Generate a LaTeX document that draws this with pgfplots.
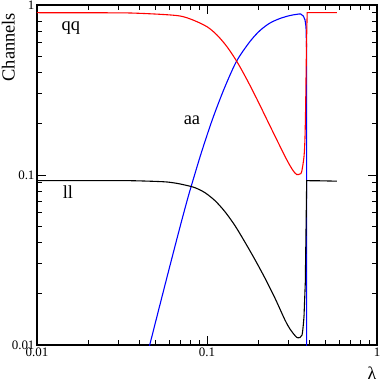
\documentclass[border=0pt]{standalone}
\usepackage{fontspec}
\setmainfont{Liberation Serif}
\usepackage{pgfplots}
\pgfplotsset{compat=1.18}
\begin{document}
\begin{tikzpicture}
\begin{axis}[
  at={(0,0)}, anchor=south west,
  scale only axis, width=340bp, height=340bp,
  xmode=log, ymode=log,
  xmin=0.01, xmax=1, ymin=0.01, ymax=1,
  axis line style={line width=1.1pt},
  every tick/.style={line width=0.9pt, black},
  major tick length=9bp, minor tick length=5bp,
  tick align=inside,
  xtick={0.01,0.1,1}, xticklabels={0.01,0.1,1},
  ytick={0.01,0.1,1}, yticklabels={0.01,0.1,1},
  /pgf/number format/assume math mode=true,
  tick label style={font=\fontsize{13}{14}\selectfont},
  xticklabel style={yshift=1bp},
  yticklabel style={xshift=1bp},
  ylabel={Channels},
  ylabel style={at={(rel axis cs:-0.084,0.876)}, anchor=center, font=\fontsize{18.5}{20}\selectfont},
  xlabel={λ},
  xlabel style={at={(rel axis cs:0.985,-0.083)}, anchor=center, font=\fontsize{18}{20}\selectfont},
  clip=true,
]
% aa (blue)
\addplot[blue, line width=1.1pt, smooth] coordinates {
(0.04377,0.00816) (0.04620,0.01014) (0.05291,0.01730) (0.06059,0.02936) (0.06938,0.04943)
(0.07627,0.07033) (0.08051,0.08500) (0.09095,0.1276) (0.1014,0.1786) (0.1115,0.2341)
(0.1276,0.3307) (0.1495,0.4684) (0.1790,0.6099) (0.2050,0.7079) (0.2348,0.7838)
(0.2688,0.8330) (0.3077,0.8673) (0.3384,0.8817) (0.3557,0.8855) (0.3685,0.8617)
(0.3773,0.8161)
};
\addplot[blue, line width=1.1pt] coordinates {
(0.3773,0.8161) (0.3823,0.7453) (0.3855,0.55) (0.3859,0.005)
};
% ll (black)
\addplot[black, line width=1.1pt, smooth] coordinates {
(0.01,0.0926) (0.02,0.0926) (0.03524,0.0926) (0.0551,0.0913) (0.0648,0.0897)
(0.0742,0.0873) (0.0850,0.0842) (0.0973,0.0787) (0.1115,0.0706) (0.1276,0.0608)
(0.1462,0.0503) (0.1674,0.0402) (0.1916,0.03176) (0.2194,0.02471) (0.2512,0.01885)
(0.2876,0.01403) (0.3077,0.01242) (0.3293,0.01137) (0.3430,0.01102) (0.3622,0.01145)
(0.3721,0.01467)
};
\addplot[black, line width=1.1pt] coordinates {
(0.3721,0.01467) (0.3787,0.02316) (0.3823,0.0456) (0.3859,0.0926) (0.45,0.0925) (0.58,0.0920)
};
% qq (red)
\addplot[red, line width=1.1pt, smooth] coordinates {
(0.01,0.9010) (0.02348,0.9000) (0.03524,0.8975) (0.0529,0.8817) (0.0694,0.8617)
(0.0827,0.8161) (0.1,0.7453) (0.1145,0.6661) (0.1311,0.5683) (0.1501,0.4639)
(0.1719,0.3636) (0.1968,0.2792) (0.2254,0.2114) (0.2581,0.1602) (0.2955,0.1222)
(0.3206,0.1063) (0.3370,0.1007) (0.3524,0.1014) (0.3606,0.1046) (0.3721,0.1281)
(0.3773,0.1680) (0.3808,0.2652)
};
\addplot[red, line width=1.1pt] coordinates {
(0.3808,0.2652) (0.3850,0.6) (0.3885,0.901) (0.58,0.901)
};
\node[font=\fontsize{18.5}{20}\selectfont] at (axis cs:0.0158,0.732) {qq};
\node[font=\fontsize{18.5}{20}\selectfont] at (axis cs:0.0816,0.211) {aa};
\node[font=\fontsize{18.5}{20}\selectfont] at (axis cs:0.0152,0.0794) {ll};
\end{axis}
\pgfresetboundingbox
\path[use as bounding box] (-37bp,-37bp) rectangle (344bp,345bp);
\end{tikzpicture}
\end{document}
